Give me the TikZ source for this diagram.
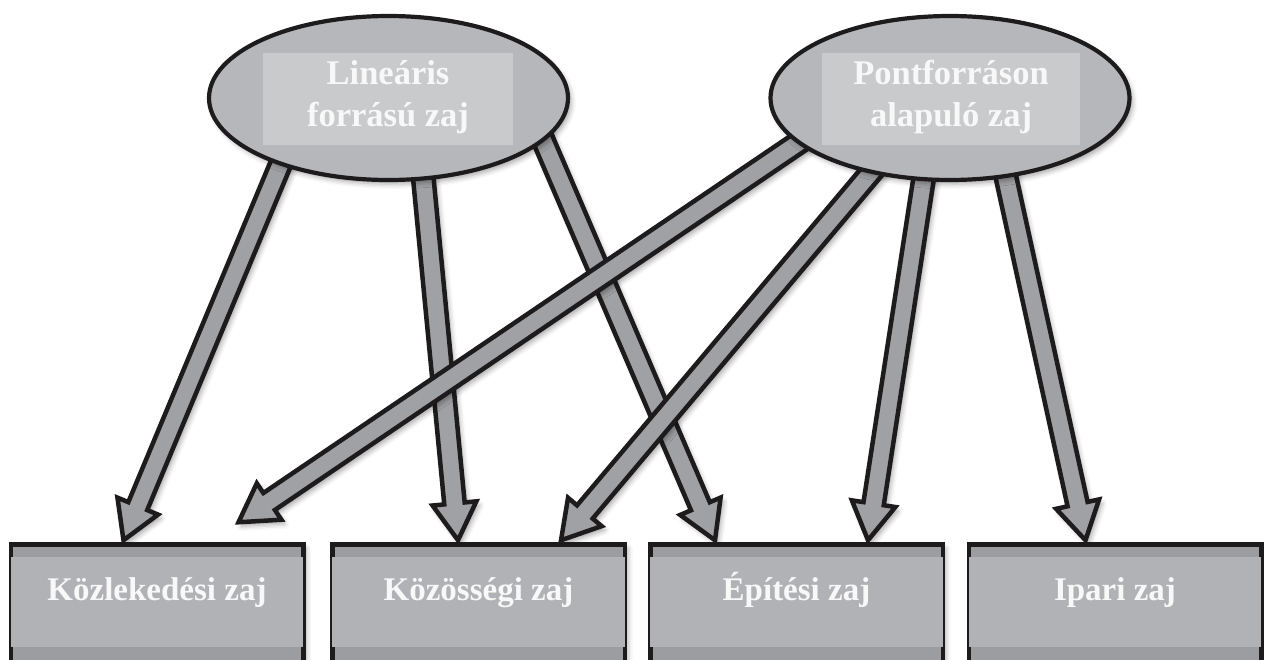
\documentclass[tikz,border=0pt]{standalone}
\usepackage{fontspec}
\setmainfont{Liberation Serif}
\usetikzlibrary{calc,shapes.geometric,shadows.blur}
\definecolor{ellfill}{HTML}{B6B7BA}
\definecolor{rectfill}{HTML}{C9CACC}
\definecolor{arrfill}{HTML}{A0A1A4}
\definecolor{banddark}{HTML}{9C9DA0}
\definecolor{bandlight}{HTML}{B1B2B5}
\definecolor{txtcol}{HTML}{F8F8F8}
\definecolor{linecol}{HTML}{1E1B1C}
\pgfdeclarelayer{arrowlayer}
\pgfsetlayers{arrowlayer,main}
\tikzset{
  softshadow/.style={blur shadow={shadow xshift=3pt,shadow yshift=-4pt,shadow blur radius=5pt,shadow opacity=35}},
  source/.style={ellipse,draw=linecol,line width=4.2pt,fill=ellfill,minimum width=359pt,minimum height=164pt,inner sep=0pt,softshadow},
  innerrect/.style={rectangle,fill=rectfill,inner sep=0pt,minimum height=92pt},
  srctext/.style={text=txtcol,align=center,inner sep=0pt,font=\fontsize{34.5}{42}\selectfont\bfseries},
  target/.style={rectangle,draw=linecol,line width=4.5pt,fill=banddark,minimum width=292.5pt,minimum height=150pt,inner sep=0pt,softshadow},
  band/.style={rectangle,fill=bandlight,inner sep=0pt,minimum height=90pt,minimum width=292.5pt},
  tgttext/.style={text=txtcol,inner sep=0pt,anchor=base,font=\fontsize{33}{40}\selectfont\bfseries},
  fatarrowstyle/.style={fill=arrfill,draw=linecol,line width=4.5pt,line join=miter,softshadow},
}
\newcommand\fatarrow[2]{%
  \path (#1) coordinate (fa-s) (#2) coordinate (fa-t);
  \path ($(fa-t)!37pt!(fa-s)$) coordinate (fa-b);
  \filldraw[fatarrowstyle]
    ($(fa-s)!10.25pt!90:(fa-t)$) --
    ($(fa-b)!10.25pt!90:(fa-t)$) --
    ($(fa-b)!22pt!90:(fa-t)$) --
    (fa-t) --
    ($(fa-b)!22pt!-90:(fa-t)$) --
    ($(fa-b)!10.25pt!-90:(fa-t)$) --
    ($(fa-s)!10.25pt!-90:(fa-t)$) -- cycle;
}
\begin{document}
\begin{tikzpicture}[x=1pt,y=-1pt]
\useasboundingbox (0,0) rectangle (1264,659);
\clip (0,0) rectangle (1264,659);
% sources
\node[source] (L) at (388.5,98) {};
\node[innerrect,minimum width=250pt] (Lr) at (388,99) {};
\node[srctext] (Lt) at (388,97) {Lineáris\\forrású zaj};
\node[source] (P) at (950,98) {};
\node[innerrect,minimum width=258pt] (Pr) at (951,99) {};
\node[srctext] (Pt) at (951,97) {Pontforráson\\alapuló zaj};
% targets (extend below the picture edge)
\node[target,anchor=north] (K) at (157,542.25) {};
\node[target,anchor=north] (Q) at (478.5,542.25) {};
\node[target,anchor=north] (E) at (796.5,542.25) {};
\node[target,anchor=north] (I) at (1115,542.25) {};
\node[band] (Kb) at (157,602) {};
\node[band] (Qb) at (478.5,602) {};
\node[band] (Eb) at (796.5,602) {};
\node[band] (Ib) at (1115,602) {};
\node[tgttext] (Kt) at (157,600) {Közlekedési zaj};
\node[tgttext] (Qt) at (478.5,600) {Közösségi zaj};
\node[tgttext] (Et) at (796.5,600) {Építési zaj};
\node[tgttext] (It) at (1115,600) {Ipari zaj};
% arrows
\begin{pgfonlayer}{arrowlayer}
\fatarrow{$(L.center)+(-97,40)$}{$(K.north west)+(115,-2)$}
\fatarrow{$(L.center)+(30,30)$}{$(Q.north west)+(128,-2)$}
\fatarrow{$(L.center)+(146,22)$}{$(E.north west)+(67,-2)$}
\fatarrow{$(P.center)+(-140,37)$}{$(K.north west)+(230,-20)$}
\fatarrow{$(P.center)+(-60,52)$}{$(Q.north west)+(231,-2)$}
\fatarrow{$(P.center)+(-22,52)$}{$(E.north west)+(220,-2)$}
\fatarrow{$(P.center)+(50,52)$}{$(I.north west)+(119,-2)$}
\end{pgfonlayer}
\end{tikzpicture}
\end{document}
